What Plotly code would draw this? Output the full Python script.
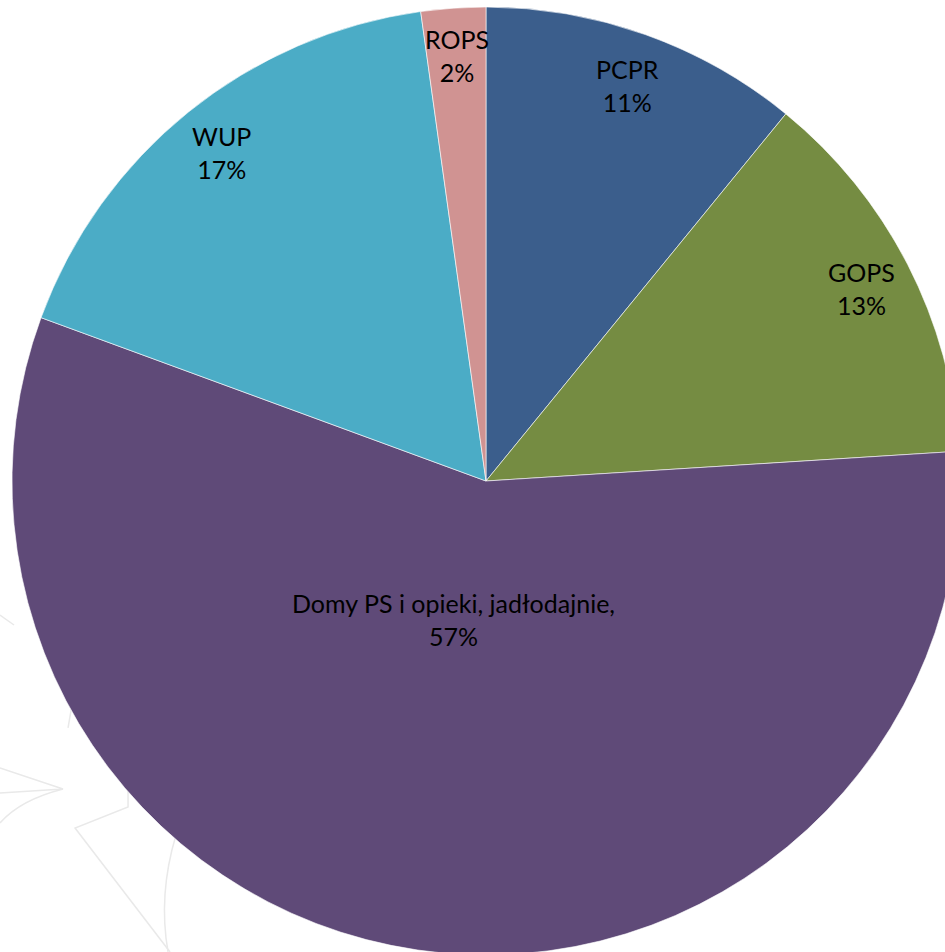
import math
import plotly.graph_objects as go

labels = ["PCPR", "GOPS", "Domy PS i opieki, jadłodajnie,", "WUP", "ROPS"]
values = [10.9, 13.1, 56.6, 17.2, 2.2]
colors = ["#3B5E8C", "#758C42", "#5F4A78", "#4BACC6", "#D09392"]
label_radius = [0.886, 0.89, 0.30, 0.89, 0.90]
label_angle_shift = [0, 0, 5, 0, 0]  # degrees, label placement tweak

W, H = 960, 955
ML, MR, MT, MB = 12, 0, 7, 0
pw, ph = W - ML - MR, H - MT - MB
R = min(pw, ph) / 2

fig = go.Figure(go.Pie(
    labels=labels, values=values, sort=False, direction="clockwise", rotation=0,
    marker=dict(colors=colors, line=dict(color="rgba(255,255,255,0.6)", width=1)),
    textinfo="none", hoverinfo="skip", showlegend=False,
    domain=dict(x=[0, 1], y=[0, 1]),
))

total = sum(values)
cum = 0
ann = []
for lab, v, f, s in zip(labels, values, label_radius, label_angle_shift):
    mid = (cum + v / 2) / total * 2 * math.pi + math.radians(s)
    cum += v
    px = 0.5 + f * R * math.sin(mid) / pw
    py = 0.5 + f * R * math.cos(mid) / ph
    ann.append(dict(x=px, y=py, xref="paper", yref="paper", showarrow=False,
                    xanchor="center", yanchor="middle",
                    text=f"{lab}<br>{round(v / total * 100)}%", align="center",
                    font=dict(family="Lato, Open Sans, sans-serif", size=25, color="#000000")))


# faint background watermark (decoration), given in page pixels
def P(x, y):
    return f"{(x - ML) / pw:.4f},{1 - (y - MT) / ph:.4f}"

wm_paths = [
    f"M{P(0,768)} L{P(63,789)} L{P(0,793)}",
    f"M{P(63,789)} Q{P(20,800)} {P(0,823)}",
    f"M{P(128,780)} L{P(128,807)} L{P(75,828)} L{P(170,952)}",
    f"M{P(176,835)} Q{P(158,895)} {P(168,952)}",
    f"M{P(0,615)} L{P(14,625)}",
    f"M{P(68,728)} L{P(72,705)}",
]
shapes = [dict(type="path", path=p, xref="paper", yref="paper", layer="below",
               line=dict(color="#E9E9E9", width=1.5)) for p in wm_paths]

fig.update_layout(width=W, height=H, margin=dict(l=ML, r=MR, t=MT, b=MB),
                  paper_bgcolor="white", plot_bgcolor="rgba(0,0,0,0)",
                  annotations=ann, shapes=shapes)
fig.write_html("out.html", config={"displayModeBar": False},
               post_script="document.body.style.margin='0';document.body.style.overflow='hidden';document.documentElement.style.overflow='hidden';")
